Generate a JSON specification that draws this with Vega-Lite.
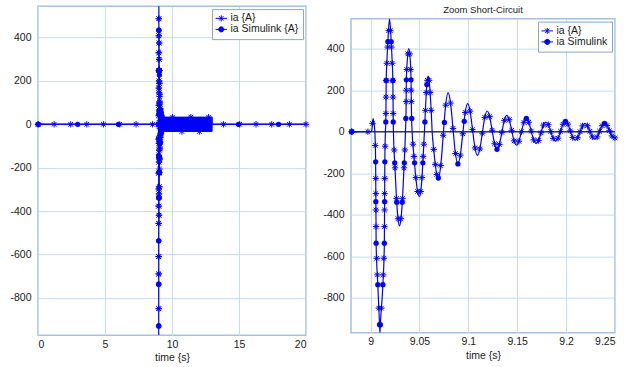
{
"$schema":"https://vega.github.io/schema/vega-lite/v6.json",
"padding":{"left":9,"top":4,"right":0,"bottom":0},
"spacing":10,
"center":true,
"resolve":{"scale":{"shape":"independent","fill":"independent","stroke":"independent"},"legend":{"shape":"independent","fill":"independent","stroke":"independent"}},
"config":{
"font":"Liberation Sans",
"view":{"stroke":"#a7c0de","strokeWidth":1.5},
"axis":{"domain":false,"ticks":false,"grid":true,"gridColor":"#c6daf0","gridWidth":1,"labelFont":"Liberation Sans","labelFontSize":10.5,"labelColor":"#1a1a1a","labelPadding":7,"titleFont":"Liberation Sans","titleFontSize":10.5,"titleFontWeight":"normal","titleColor":"#1a1a1a","titlePadding":2},
"axisX":{"labelPadding":4,"titlePadding":3},
"legend":{"title":null,"orient":"top-right","offset":3,"padding":4,"fillColor":"#ffffff","strokeColor":"#8ea5c4","labelFont":"Liberation Sans","labelFontSize":10.5,"labelColor":"#1a1a1a","labelOffset":4,"symbolSize":36,"rowPadding":0,"symbolStrokeWidth":1},
"title":{"font":"Liberation Sans","fontSize":9.5,"fontWeight":"normal","color":"#1a1a1a","offset":4}
},
"datasets":{
"ia":[{"t":0,"v":0},{"t":8.9806,"v":0},{"t":8.9973,"v":0},{"t":9.0,"v":0},{"t":9.0012,"v":5},{"t":9.002,"v":40},{"t":9.0026,"v":63},{"t":9.0034,"v":45},{"t":9.0044,"v":0},{"t":9.0052,"v":-143},{"t":9.0057,"v":-543},{"t":9.0074,"v":-737},{"t":9.0092,"v":-930},{"t":9.0096,"v":-970},{"t":9.01,"v":-930},{"t":9.0126,"v":-737},{"t":9.0141,"v":-543},{"t":9.0146,"v":-143},{"t":9.0152,"v":0},{"t":9.0156,"v":47},{"t":9.016,"v":247},{"t":9.0166,"v":330},{"t":9.0177,"v":434},{"t":9.0194,"v":545},{"t":9.0211,"v":434},{"t":9.0222,"v":330},{"t":9.0228,"v":247},{"t":9.0232,"v":47},{"t":9.0234,"v":0},{"t":9.025,"v":-174},{"t":9.0265,"v":-321},{"t":9.0281,"v":-419},{"t":9.0296,"v":-454},{"t":9.0311,"v":-419},{"t":9.0327,"v":-321},{"t":9.0342,"v":-174},{"t":9.0357,"v":0},{"t":9.0363,"v":100},{"t":9.0366,"v":250},{"t":9.0375,"v":340},{"t":9.0391,"v":400},{"t":9.0407,"v":340},{"t":9.0414,"v":250},{"t":9.0418,"v":100},{"t":9.0425,"v":0},{"t":9.0444,"v":-119},{"t":9.0463,"v":-221},{"t":9.0481,"v":-288},{"t":9.05,"v":-312},{"t":9.0513,"v":-288},{"t":9.0526,"v":-221},{"t":9.0538,"v":-119},{"t":9.0551,"v":0},{"t":9.0561,"v":103},{"t":9.057,"v":189},{"t":9.058,"v":248},{"t":9.0589,"v":268},{"t":9.0599,"v":248},{"t":9.0609,"v":189},{"t":9.062,"v":103},{"t":9.063,"v":0},{"t":9.0646,"v":-85},{"t":9.0662,"v":-158},{"t":9.0677,"v":-206},{"t":9.0693,"v":-223},{"t":9.0718,"v":-163},{"t":9.0743,"v":-17},{"t":9.0768,"v":128},{"t":9.0793,"v":188},{"t":9.0818,"v":138},{"t":9.0843,"v":16},{"t":9.0868,"v":-105},{"t":9.0893,"v":-155},{"t":9.0918,"v":-113},{"t":9.0943,"v":-10},{"t":9.0968,"v":93},{"t":9.0993,"v":135},{"t":9.1018,"v":99},{"t":9.1043,"v":10},{"t":9.1068,"v":-78},{"t":9.1093,"v":-114},{"t":9.1118,"v":-83},{"t":9.1143,"v":-7},{"t":9.1168,"v":69},{"t":9.1193,"v":100},{"t":9.1218,"v":73},{"t":9.1243,"v":7},{"t":9.1268,"v":-58},{"t":9.1293,"v":-85},{"t":9.1318,"v":-61},{"t":9.1343,"v":-3},{"t":9.1368,"v":55},{"t":9.1393,"v":79},{"t":9.1418,"v":58},{"t":9.1443,"v":7},{"t":9.1468,"v":-44},{"t":9.1493,"v":-65},{"t":9.1518,"v":-46},{"t":9.1543,"v":0},{"t":9.1568,"v":45},{"t":9.1593,"v":64},{"t":9.1618,"v":46},{"t":9.1643,"v":3},{"t":9.1668,"v":-39},{"t":9.1693,"v":-57},{"t":9.1718,"v":-42},{"t":9.1743,"v":-5},{"t":9.1768,"v":32},{"t":9.1793,"v":47},{"t":9.1818,"v":34},{"t":9.1843,"v":1},{"t":9.1868,"v":-32},{"t":9.1893,"v":-45},{"t":9.1918,"v":-31},{"t":9.1943,"v":2},{"t":9.1968,"v":36},{"t":9.1993,"v":50},{"t":9.2018,"v":37},{"t":9.2043,"v":4},{"t":9.2068,"v":-28},{"t":9.2093,"v":-41},{"t":9.2118,"v":-29},{"t":9.2143,"v":0},{"t":9.2168,"v":28},{"t":9.2193,"v":40},{"t":9.2218,"v":29},{"t":9.2243,"v":2},{"t":9.2268,"v":-25},{"t":9.2293,"v":-36},{"t":9.2318,"v":-25},{"t":9.2343,"v":2},{"t":9.2368,"v":29},{"t":9.2393,"v":40},{"t":9.2418,"v":30},{"t":9.2443,"v":5},{"t":9.2468,"v":-20},{"t":9.2493,"v":-30},
{"t":9.26,"v":33},{"t":9.27,"v":-33},{"t":9.28,"v":33},{"t":9.29,"v":-33},{"t":9.3,"v":33},{"t":9.31,"v":-33},{"t":9.32,"v":33},{"t":9.33,"v":-33},{"t":9.34,"v":33},{"t":9.35,"v":-33},{"t":9.36,"v":33},{"t":9.37,"v":-33},{"t":9.38,"v":33},{"t":9.39,"v":-33},{"t":9.4,"v":33},{"t":9.41,"v":-33},{"t":9.42,"v":33},{"t":9.43,"v":-33},{"t":9.44,"v":33},{"t":9.45,"v":-33},{"t":9.46,"v":33},{"t":9.47,"v":-33},{"t":9.48,"v":33},{"t":9.49,"v":-33},{"t":9.5,"v":33},{"t":9.51,"v":-33},{"t":9.52,"v":33},{"t":9.53,"v":-33},{"t":9.54,"v":33},{"t":9.55,"v":-33},{"t":9.56,"v":33},{"t":9.57,"v":-33},{"t":9.58,"v":33},{"t":9.59,"v":-33},{"t":9.6,"v":33},{"t":9.61,"v":-33},{"t":9.62,"v":33},{"t":9.63,"v":-33},{"t":9.64,"v":33},{"t":9.65,"v":-33},{"t":9.66,"v":33},{"t":9.67,"v":-33},{"t":9.68,"v":33},{"t":9.69,"v":-33},{"t":9.7,"v":33},{"t":9.71,"v":-33},{"t":9.72,"v":33},{"t":9.73,"v":-33},{"t":9.74,"v":33},{"t":9.75,"v":-33},{"t":9.76,"v":33},{"t":9.77,"v":-33},{"t":9.78,"v":33},{"t":9.79,"v":-33},{"t":9.8,"v":33},{"t":9.81,"v":-33},{"t":9.82,"v":33},{"t":9.83,"v":-33},{"t":9.84,"v":33},{"t":9.85,"v":-33},{"t":9.86,"v":33},{"t":9.87,"v":-33},{"t":9.88,"v":33},{"t":9.89,"v":-33},{"t":9.9,"v":33},{"t":9.91,"v":-33},{"t":9.92,"v":33},{"t":9.93,"v":-33},{"t":9.94,"v":33},{"t":9.95,"v":-33},{"t":9.96,"v":33},{"t":9.97,"v":-33},{"t":9.98,"v":33},{"t":9.99,"v":-33},
{"t":10.0,"v":33},{"t":10.01,"v":-33},{"t":10.02,"v":33},{"t":10.03,"v":-33},{"t":10.04,"v":33},{"t":10.05,"v":-33},{"t":10.06,"v":33},{"t":10.07,"v":-33},{"t":10.08,"v":33},{"t":10.09,"v":-33},{"t":10.1,"v":33},{"t":10.11,"v":-33},{"t":10.12,"v":33},{"t":10.13,"v":-33},{"t":10.14,"v":33},{"t":10.15,"v":-33},{"t":10.16,"v":33},{"t":10.17,"v":-33},{"t":10.18,"v":33},{"t":10.19,"v":-33},{"t":10.2,"v":33},{"t":10.21,"v":-33},{"t":10.22,"v":33},{"t":10.23,"v":-33},{"t":10.24,"v":33},{"t":10.25,"v":-33},{"t":10.26,"v":33},{"t":10.27,"v":-33},{"t":10.28,"v":33},{"t":10.29,"v":-33},{"t":10.3,"v":33},{"t":10.31,"v":-33},{"t":10.32,"v":33},{"t":10.33,"v":-33},{"t":10.34,"v":33},{"t":10.35,"v":-33},{"t":10.36,"v":33},{"t":10.37,"v":-33},{"t":10.38,"v":33},{"t":10.39,"v":-33},{"t":10.4,"v":33},{"t":10.41,"v":-33},{"t":10.42,"v":33},{"t":10.43,"v":-33},{"t":10.44,"v":33},{"t":10.45,"v":-33},{"t":10.46,"v":33},{"t":10.47,"v":-33},{"t":10.48,"v":33},{"t":10.49,"v":-33},{"t":10.5,"v":33},{"t":10.51,"v":-33},{"t":10.52,"v":33},{"t":10.53,"v":-33},{"t":10.54,"v":33},{"t":10.55,"v":-33},{"t":10.56,"v":33},{"t":10.57,"v":-33},{"t":10.58,"v":33},{"t":10.59,"v":-33},{"t":10.6,"v":33},{"t":10.61,"v":-33},{"t":10.62,"v":33},{"t":10.63,"v":-33},{"t":10.64,"v":33},{"t":10.65,"v":-33},{"t":10.66,"v":33},{"t":10.67,"v":-33},{"t":10.68,"v":33},{"t":10.69,"v":-33},{"t":10.7,"v":33},{"t":10.71,"v":-33},{"t":10.72,"v":33},{"t":10.73,"v":-33},{"t":10.74,"v":33},{"t":10.75,"v":-33},{"t":10.76,"v":33},{"t":10.77,"v":-33},{"t":10.78,"v":33},{"t":10.79,"v":-33},{"t":10.8,"v":33},{"t":10.81,"v":-33},{"t":10.82,"v":33},{"t":10.83,"v":-33},{"t":10.84,"v":33},{"t":10.85,"v":-33},{"t":10.86,"v":33},{"t":10.87,"v":-33},{"t":10.88,"v":33},{"t":10.89,"v":-33},{"t":10.9,"v":33},{"t":10.91,"v":-33},{"t":10.92,"v":33},{"t":10.93,"v":-33},{"t":10.94,"v":33},{"t":10.95,"v":-33},{"t":10.96,"v":33},{"t":10.97,"v":-33},{"t":10.98,"v":33},{"t":10.99,"v":-33},
{"t":11.0,"v":33},{"t":11.01,"v":-33},{"t":11.02,"v":33},{"t":11.03,"v":-33},{"t":11.04,"v":33},{"t":11.05,"v":-33},{"t":11.06,"v":33},{"t":11.07,"v":-33},{"t":11.08,"v":33},{"t":11.09,"v":-33},{"t":11.1,"v":33},{"t":11.11,"v":-33},{"t":11.12,"v":33},{"t":11.13,"v":-33},{"t":11.14,"v":33},{"t":11.15,"v":-33},{"t":11.16,"v":33},{"t":11.17,"v":-33},{"t":11.18,"v":33},{"t":11.19,"v":-33},{"t":11.2,"v":33},{"t":11.21,"v":-33},{"t":11.22,"v":33},{"t":11.23,"v":-33},{"t":11.24,"v":33},{"t":11.25,"v":-33},{"t":11.26,"v":33},{"t":11.27,"v":-33},{"t":11.28,"v":33},{"t":11.29,"v":-33},{"t":11.3,"v":33},{"t":11.31,"v":-33},{"t":11.32,"v":33},{"t":11.33,"v":-33},{"t":11.34,"v":33},{"t":11.35,"v":-33},{"t":11.36,"v":33},{"t":11.37,"v":-33},{"t":11.38,"v":33},{"t":11.39,"v":-33},{"t":11.4,"v":33},{"t":11.41,"v":-33},{"t":11.42,"v":33},{"t":11.43,"v":-33},{"t":11.44,"v":33},{"t":11.45,"v":-33},{"t":11.46,"v":33},{"t":11.47,"v":-33},{"t":11.48,"v":33},{"t":11.49,"v":-33},{"t":11.5,"v":33},{"t":11.51,"v":-33},{"t":11.52,"v":33},{"t":11.53,"v":-33},{"t":11.54,"v":33},{"t":11.55,"v":-33},{"t":11.56,"v":33},{"t":11.57,"v":-33},{"t":11.58,"v":33},{"t":11.59,"v":-33},{"t":11.6,"v":33},{"t":11.61,"v":-33},{"t":11.62,"v":33},{"t":11.63,"v":-33},{"t":11.64,"v":33},{"t":11.65,"v":-33},{"t":11.66,"v":33},{"t":11.67,"v":-33},{"t":11.68,"v":33},{"t":11.69,"v":-33},{"t":11.7,"v":33},{"t":11.71,"v":-33},{"t":11.72,"v":33},{"t":11.73,"v":-33},{"t":11.74,"v":33},{"t":11.75,"v":-33},{"t":11.76,"v":33},{"t":11.77,"v":-33},{"t":11.78,"v":33},{"t":11.79,"v":-33},{"t":11.8,"v":33},{"t":11.81,"v":-33},{"t":11.82,"v":33},{"t":11.83,"v":-33},{"t":11.84,"v":33},{"t":11.85,"v":-33},{"t":11.86,"v":33},{"t":11.87,"v":-33},{"t":11.88,"v":33},{"t":11.89,"v":-33},{"t":11.9,"v":33},{"t":11.91,"v":-33},{"t":11.92,"v":33},{"t":11.93,"v":-33},{"t":11.94,"v":33},{"t":11.95,"v":-33},{"t":11.96,"v":33},{"t":11.97,"v":-33},{"t":11.98,"v":33},{"t":11.99,"v":-33},
{"t":12.0,"v":33},{"t":12.01,"v":-33},{"t":12.02,"v":33},{"t":12.03,"v":-33},{"t":12.04,"v":33},{"t":12.05,"v":-33},{"t":12.06,"v":33},{"t":12.07,"v":-33},{"t":12.08,"v":33},{"t":12.09,"v":-33},{"t":12.1,"v":33},{"t":12.11,"v":-33},{"t":12.12,"v":33},{"t":12.13,"v":-33},{"t":12.14,"v":33},{"t":12.15,"v":-33},{"t":12.16,"v":33},{"t":12.17,"v":-33},{"t":12.18,"v":33},{"t":12.19,"v":-33},{"t":12.2,"v":33},{"t":12.21,"v":-33},{"t":12.22,"v":33},{"t":12.23,"v":-33},{"t":12.24,"v":33},{"t":12.25,"v":-33},{"t":12.26,"v":33},{"t":12.27,"v":-33},{"t":12.28,"v":33},{"t":12.29,"v":-33},{"t":12.3,"v":33},{"t":12.31,"v":-33},{"t":12.32,"v":33},{"t":12.33,"v":-33},{"t":12.34,"v":33},{"t":12.35,"v":-33},{"t":12.36,"v":33},{"t":12.37,"v":-33},{"t":12.38,"v":33},{"t":12.39,"v":-33},{"t":12.4,"v":33},{"t":12.41,"v":-33},{"t":12.42,"v":33},{"t":12.43,"v":-33},{"t":12.44,"v":33},{"t":12.45,"v":-33},{"t":12.46,"v":33},{"t":12.47,"v":-33},{"t":12.48,"v":33},{"t":12.49,"v":-33},{"t":12.5,"v":33},{"t":12.51,"v":-33},{"t":12.52,"v":33},{"t":12.53,"v":-33},{"t":12.54,"v":33},{"t":12.55,"v":-33},{"t":12.56,"v":33},{"t":12.57,"v":-33},{"t":12.58,"v":33},{"t":12.59,"v":-33},{"t":12.6,"v":33},{"t":12.61,"v":-33},{"t":12.62,"v":33},{"t":12.63,"v":-33},{"t":12.64,"v":33},{"t":12.65,"v":-33},{"t":12.66,"v":33},{"t":12.67,"v":-33},{"t":12.68,"v":33},{"t":12.69,"v":-33},{"t":12.7,"v":33},{"t":12.71,"v":-33},{"t":12.72,"v":33},{"t":12.73,"v":-33},{"t":12.74,"v":33},{"t":12.75,"v":-33},{"t":12.76,"v":33},{"t":12.77,"v":-33},{"t":12.78,"v":33},{"t":12.79,"v":-33},{"t":12.8,"v":33},{"t":12.81,"v":-33},{"t":12.82,"v":33},{"t":12.83,"v":-33},{"t":12.84,"v":33},{"t":12.85,"v":-33},{"t":12.86,"v":33},{"t":12.87,"v":-33},{"t":12.88,"v":33},{"t":12.89,"v":-33},{"t":12.9,"v":33},{"t":12.91,"v":-33},{"t":12.92,"v":33},{"t":12.93,"v":-33},{"t":12.94,"v":33},{"t":12.95,"v":-33},{"t":12.96,"v":33},{"t":12.97,"v":-33},{"t":12.98,"v":33},{"t":12.99,"v":-33},
{"t":13.0,"v":33},{"t":13.005,"v":0},{"t":20,"v":0}],
"iamk":[{"t":0,"v":0},{"t":1.2,"v":0},{"t":2.44,"v":0},{"t":3.64,"v":0},{"t":4.88,"v":0},{"t":6.1,"v":0},{"t":7.32,"v":0},{"t":8.55,"v":0},{"t":13.85,"v":0},{"t":15.05,"v":0},{"t":16.27,"v":0},{"t":17.44,"v":0},{"t":18.76,"v":0},{"t":20,"v":0},{"t":10.04,"v":33},{"t":11.41,"v":33},{"t":12.73,"v":33},{"t":10.74,"v":-33},{"t":12.04,"v":-33},
{"t":8.9806,"v":0},{"t":8.9973,"v":0},{"t":9.002,"v":40},{"t":9.0048,"v":-66},
{"t":9.0053,"v":-225},{"t":9.0054,"v":-298},{"t":9.0055,"v":-377},{"t":9.0056,"v":-457},{"t":9.0063,"v":-610},{"t":9.007,"v":-690},{"t":9.0084,"v":-850},
{"t":9.0111,"v":-850},{"t":9.013,"v":-690},{"t":9.0136,"v":-610},{"t":9.0142,"v":-457},{"t":9.0143,"v":-377},{"t":9.0144,"v":-298},{"t":9.0145,"v":-225},{"t":9.0149,"v":-70},
{"t":9.0157,"v":88},{"t":9.0158,"v":167},{"t":9.016,"v":247},{"t":9.0166,"v":330},{"t":9.0174,"v":408},{"t":9.0185,"v":487},{"t":9.0203,"v":487},{"t":9.0214,"v":408},{"t":9.0222,"v":330},{"t":9.0228,"v":247},{"t":9.023,"v":167},{"t":9.0231,"v":88},
{"t":9.0242,"v":-88},{"t":9.025,"v":-174},{"t":9.0265,"v":-321},{"t":9.0281,"v":-419},{"t":9.0311,"v":-419},{"t":9.0327,"v":-321},{"t":9.0342,"v":-174},{"t":9.035,"v":-88},
{"t":9.0364,"v":145},{"t":9.0365,"v":200},{"t":9.037,"v":300},{"t":9.0382,"v":375},{"t":9.04,"v":375},{"t":9.041,"v":300},{"t":9.0415,"v":200},{"t":9.0417,"v":145},
{"t":9.0434,"v":-60},{"t":9.0444,"v":-119},{"t":9.0463,"v":-221},{"t":9.0481,"v":-288},{"t":9.0513,"v":-288},{"t":9.0526,"v":-221},{"t":9.0538,"v":-119},{"t":9.0545,"v":-60},
{"t":9.0561,"v":103},{"t":9.057,"v":189},{"t":9.058,"v":248},{"t":9.0599,"v":248},{"t":9.0609,"v":189},{"t":9.062,"v":103},
{"t":9.0646,"v":-85},{"t":9.0662,"v":-158},{"t":9.0677,"v":-206},
{"t":9.0718,"v":-163},{"t":9.0743,"v":-17},{"t":9.0768,"v":128},{"t":9.0818,"v":138},{"t":9.0843,"v":16},{"t":9.0868,"v":-105},{"t":9.0918,"v":-113},{"t":9.0943,"v":-10},{"t":9.0968,"v":93},{"t":9.1018,"v":99},{"t":9.1043,"v":10},{"t":9.1068,"v":-78},{"t":9.1118,"v":-83},{"t":9.1143,"v":-7},{"t":9.1168,"v":69},{"t":9.1218,"v":73},{"t":9.1243,"v":7},{"t":9.1268,"v":-58},{"t":9.1318,"v":-61},{"t":9.1343,"v":-3},{"t":9.1368,"v":55},{"t":9.1418,"v":58},{"t":9.1443,"v":7},{"t":9.1468,"v":-44},{"t":9.1518,"v":-46},{"t":9.1543,"v":0},{"t":9.1568,"v":45},{"t":9.1618,"v":46},{"t":9.1643,"v":3},{"t":9.1668,"v":-39},{"t":9.1718,"v":-42},{"t":9.1743,"v":-5},{"t":9.1768,"v":32},{"t":9.1818,"v":34},{"t":9.1843,"v":1},{"t":9.1868,"v":-32},{"t":9.1918,"v":-31},{"t":9.1943,"v":2},{"t":9.1968,"v":36},{"t":9.2018,"v":37},{"t":9.2043,"v":4},{"t":9.2068,"v":-28},{"t":9.2118,"v":-29},{"t":9.2143,"v":0},{"t":9.2168,"v":28},{"t":9.2218,"v":29},{"t":9.2243,"v":2},{"t":9.2268,"v":-25},{"t":9.2318,"v":-25},{"t":9.2343,"v":2},{"t":9.2368,"v":29},{"t":9.2418,"v":30},{"t":9.2443,"v":5},{"t":9.2468,"v":-20},{"t":9.25,"v":-30}],
"simmk":[{"t":0,"v":0},{"t":2.96,"v":0},{"t":6.0,"v":0},{"t":14.96,"v":0},{"t":17.95,"v":0},{"t":8.9806,"v":0},
{"t":9.0052,"v":-145},{"t":9.0054,"v":-337},{"t":9.0057,"v":-537},{"t":9.0074,"v":-737},{"t":9.0092,"v":-930},{"t":9.01,"v":-930},{"t":9.0126,"v":-737},{"t":9.0141,"v":-537},{"t":9.0144,"v":-337},{"t":9.0146,"v":-145},
{"t":9.0156,"v":47},{"t":9.016,"v":247},{"t":9.0177,"v":434},{"t":9.0211,"v":434},{"t":9.0228,"v":247},{"t":9.0232,"v":47},
{"t":9.0247,"v":-150},{"t":9.0268,"v":-340},{"t":9.0324,"v":-340},{"t":9.0345,"v":-150},
{"t":9.0361,"v":64},{"t":9.0366,"v":250},{"t":9.0414,"v":250},{"t":9.0421,"v":64},
{"t":9.045,"v":-150},{"t":9.0535,"v":-150},{"t":9.0556,"v":47},{"t":9.0576,"v":227},
{"t":9.0693,"v":-223},{"t":9.0755,"v":45},{"t":9.0893,"v":-155},{"t":9.0958,"v":50},{"t":9.1293,"v":-85},{"t":9.1593,"v":64},{"t":9.1993,"v":50},{"t":9.2393,"v":40}]
},
"hconcat":[
{
"width":268,"height":329,
"encoding":{
"x":{"field":"t","type":"quantitative","scale":{"domain":[0,20],"nice":false,"zero":false},"axis":{"values":[0,5,10,15,20],"title":["time {s}"," "],"titleLineHeight":10,"format":"~g"}},
"y":{"field":"v","type":"quantitative","scale":{"domain":[-972,545],"nice":false,"zero":false},"axis":{"values":[-800,-600,-400,-200,0,200,400],"title":null,"labelExpr":"replace(datum.label,'\u2212','-')"}}
},
"layer":[
{"data":{"values":[{"t":0,"v":0},{"t":20,"v":0}]},"mark":{"type":"line","color":"#3c3c3c","strokeWidth":1.5,"clip":true}},
{"data":{"name":"ia"},"mark":{"type":"line","color":"#0000ff","strokeWidth":1.2,"interpolate":"monotone","clip":true}},
{"data":{"name":"iamk"},"mark":{"type":"point","shape":"M-1,0L1,0M0,-1L0,1M-0.72,-0.72L0.72,0.72M-0.72,0.72L0.72,-0.72","filled":false,"stroke":"#0000ff","strokeWidth":1,"size":40,"opacity":1}},
{"data":{"name":"simmk"},"mark":{"type":"point","shape":"circle","filled":true,"fill":"#0000ff","size":28,"opacity":1}},
{"data":{"values":[{"s":"ia {A}","t":0,"v":0},{"s":"ia Simulink {A}","t":0,"v":0}]},
"mark":{"type":"point","filled":true,"strokeWidth":1,"size":36,"opacity":1,"clip":true},
"encoding":{
"shape":{"field":"s","type":"nominal","scale":{"domain":["ia {A}","ia Simulink {A}"],"range":["M-1.9,0L1.9,0M0,-1L0,1M-0.72,-0.72L0.72,0.72M-0.72,0.72L0.72,-0.72","M-1.9,0L1.9,0M-0.85,0A0.85,0.85,0,1,0,0.85,0A0.85,0.85,0,1,0,-0.85,0Z"]},"legend":{"orient":"top-right"}},
"fill":{"field":"s","type":"nominal","scale":{"domain":["ia {A}","ia Simulink {A}"],"range":["#0000ff","#0000ff"]},"legend":{"orient":"top-right"}},
"stroke":{"field":"s","type":"nominal","scale":{"domain":["ia {A}","ia Simulink {A}"],"range":["#0000ff","#0000ff"]},"legend":{"orient":"top-right"}}}}
]
},
{
"width":264,"height":314,
"title":{"text":"Zoom Short-Circuit"},
"encoding":{
"x":{"field":"t","type":"quantitative","scale":{"domain":[8.98,9.25],"nice":false,"zero":false},"axis":{"values":[9,9.05,9.1,9.15,9.2,9.25],"title":"time {s}","format":"~g"}},
"y":{"field":"v","type":"quantitative","scale":{"domain":[-968,545],"nice":false,"zero":false},"axis":{"values":[-800,-600,-400,-200,0,200,400],"title":null,"labelExpr":"replace(datum.label,'\u2212','-')"}}
},
"layer":[
{"data":{"values":[{"t":8.98,"v":0},{"t":9.25,"v":0}]},"mark":{"type":"line","color":"#3c3c3c","strokeWidth":1.5,"clip":true}},
{"data":{"name":"ia"},"mark":{"type":"line","color":"#0000ff","strokeWidth":1.2,"interpolate":"monotone","clip":true}},
{"data":{"name":"iamk"},"transform":[{"filter":"datum.t >= 8.98 && datum.t <= 9.25"}],"mark":{"type":"point","shape":"M-1,0L1,0M0,-1L0,1M-0.72,-0.72L0.72,0.72M-0.72,0.72L0.72,-0.72","filled":false,"stroke":"#0000ff","strokeWidth":1,"size":40,"opacity":1}},
{"data":{"name":"simmk"},"transform":[{"filter":"datum.t >= 8.98 && datum.t <= 9.25"}],"mark":{"type":"point","shape":"circle","filled":true,"fill":"#0000ff","size":28,"opacity":1}},
{"data":{"values":[{"s":"ia {A}","t":8.9806,"v":0},{"s":"ia Simulink","t":8.9806,"v":0}]},
"mark":{"type":"point","filled":true,"strokeWidth":1,"size":36,"opacity":1,"clip":true},
"encoding":{
"shape":{"field":"s","type":"nominal","scale":{"domain":["ia {A}","ia Simulink"],"range":["M-1.9,0L1.9,0M0,-1L0,1M-0.72,-0.72L0.72,0.72M-0.72,0.72L0.72,-0.72","M-1.9,0L1.9,0M-0.85,0A0.85,0.85,0,1,0,0.85,0A0.85,0.85,0,1,0,-0.85,0Z"]},"legend":{"orient":"top-right"}},
"fill":{"field":"s","type":"nominal","scale":{"domain":["ia {A}","ia Simulink"],"range":["#0000ff","#0000ff"]},"legend":{"orient":"top-right"}},
"stroke":{"field":"s","type":"nominal","scale":{"domain":["ia {A}","ia Simulink"],"range":["#0000ff","#0000ff"]},"legend":{"orient":"top-right"}}}}
]
}
]
}
